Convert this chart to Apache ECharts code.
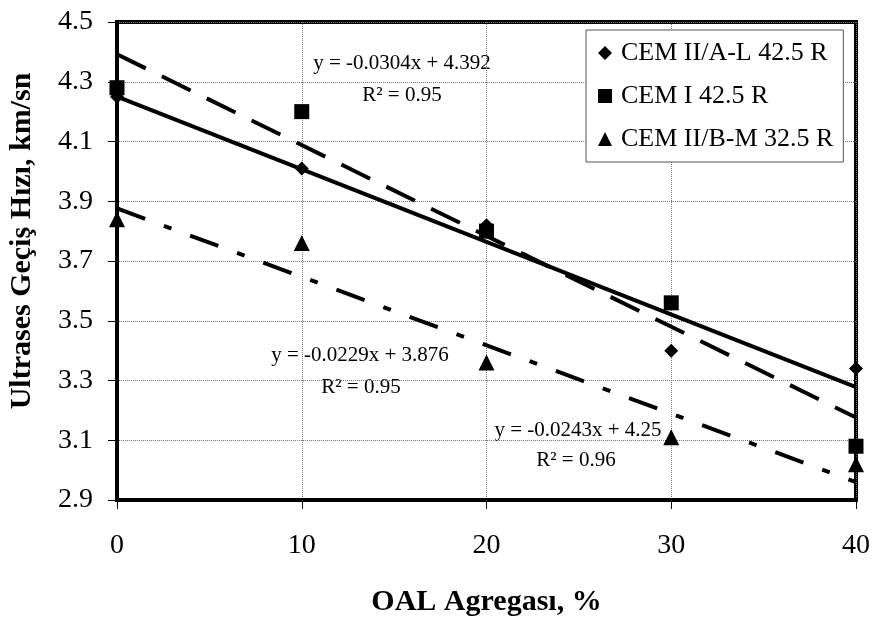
<!DOCTYPE html>
<html>
<head>
<meta charset="utf-8">
<script src="https://cdn.jsdelivr.net/npm/echarts@6/dist/echarts.min.js"></script>
<style>
html, body { margin: 0; padding: 0; background: #fff; }
#chart { width: 874px; height: 617px; }
</style>
</head>
<body>
<div id="chart"></div>
<script>
// OAL agregası oranı (%)
var xValues = [0, 10, 20, 30, 40];
var yTicks = [2.9, 3.1, 3.3, 3.5, 3.7, 3.9, 4.1, 4.3, 4.5];

var seriesNames = ["CEM II/A-L 42.5 R", "CEM I 42.5 R", "CEM II/B-M 32.5 R"];
var cemIIAL = [4.25, 4.01, 3.82, 3.40, 3.34];
var cemI = [4.28, 4.20, 3.80, 3.56, 3.08];
var cemIIBM = [3.84, 3.76, 3.36, 3.11, 3.02];

// trend line ends (x = 0 and x = 40)
var trendX = [0, 40];
var trendIIAL = [4.25, 3.278];
var trendI = [4.392, 3.176];
var trendIIBM = [3.876, 2.96];

var font = "'Liberation Serif', 'Times New Roman', serif";

function pairs(xs, ys) {
    return xs.map(function (x, i) { return [x, ys[i]]; });
}

var chart = echarts.init(document.getElementById("chart"));

function trend(name, ys, dash) {
    return {
        name: name,
        type: "line",
        data: pairs(trendX, ys),
        symbol: "none",
        silent: true,
        z: 3,
        lineStyle: { color: "#000", width: 4, type: dash }
    };
}

function points(name, ys, symbol, size) {
    return {
        name: name,
        type: "scatter",
        data: pairs(xValues, ys),
        symbol: symbol,
        symbolSize: size,
        clip: false,
        z: 4,
        itemStyle: { color: "#000", opacity: 1 }
    };
}

function note(txt, x, y) {
    return {
        type: "text",
        x: x,
        y: y,
        style: {
            text: txt,
            font: "21px " + font,
            fill: "#000",
            align: "center",
            verticalAlign: "middle"
        }
    };
}

var option = {
    animation: false,
    backgroundColor: "#fff",
    grid: {
        left: 117,
        right: 18,
        top: 22,
        bottom: 117,
        outerBoundsMode: "none",
        show: true,
        borderColor: "#000",
        borderWidth: 4
    },
    legend: {
        orient: "vertical",
        left: 586,
        top: 30,
        padding: [10, 10, 10, 12],
        itemGap: 17,
        itemWidth: 14,
        itemHeight: 14,
        backgroundColor: "#fff",
        borderColor: "#555",
        borderWidth: 1,
        borderRadius: 0,
        itemStyle: { opacity: 1 },
        textStyle: { fontFamily: font, fontSize: 26, color: "#000", padding: [0, 0, 0, 4] },
        data: [
            { name: seriesNames[0], icon: "diamond" },
            { name: seriesNames[1], icon: "rect" },
            { name: seriesNames[2], icon: "triangle" }
        ]
    },
    xAxis: {
        type: "value",
        min: 0,
        max: 40,
        interval: 10,
        name: "OAL Agregası, %",
        nameLocation: "middle",
        nameGap: 87,
        nameTextStyle: { fontFamily: font, fontSize: 30, fontWeight: "bold", color: "#000" },
        axisLine: { show: true, lineStyle: { color: "#000", width: 4 } },
        axisTick: { show: true, length: 9, lineStyle: { color: "#000", width: 1 } },
        axisLabel: { fontFamily: font, fontSize: 28, color: "#000", margin: 32 },
        splitLine: { show: true, lineStyle: { color: "#777", width: 1, type: [1, 1] } }
    },
    yAxis: {
        type: "value",
        min: yTicks[0],
        max: yTicks[yTicks.length - 1],
        interval: 0.2,
        name: "Ultrases Geçiş Hızı, km/sn",
        nameLocation: "middle",
        nameGap: 80,
        nameRotate: 90,
        nameTextStyle: {
            fontFamily: font, fontSize: 30, fontWeight: "bold", color: "#000",
            padding: [0, 0, 0, 40]
        },
        axisLine: { show: true, lineStyle: { color: "#000", width: 4 } },
        axisTick: { show: true, length: 9, lineStyle: { color: "#000", width: 1 } },
        axisLabel: {
            fontFamily: font, fontSize: 28, color: "#000", margin: 24,
            formatter: function (v) { return v.toFixed(1); }
        },
        splitLine: { show: true, lineStyle: { color: "#777", width: 1, type: [1, 1] } }
    },
    graphic: [
        note("y = -0.0304x + 4.392", 402, 63),
        note("R² = 0.95", 402, 95),
        note("y = -0.0229x + 3.876", 360, 355),
        note("R² = 0.95", 361, 387),
        note("y = -0.0243x + 4.25", 578, 430),
        note("R² = 0.96", 576, 460)
    ],
    series: [
        trend("trend1", trendIIAL, "solid"),
        trend("trend2", trendI, [32, 18]),
        trend("trend3", trendIIBM, [30, 20, 8, 20]),
        points(seriesNames[0], cemIIAL, "diamond", 14),
        points(seriesNames[1], cemI, "rect", 15),
        points(seriesNames[2], cemIIBM, "triangle", 16)
    ]
};

chart.setOption(option);
</script>
</body>
</html>
